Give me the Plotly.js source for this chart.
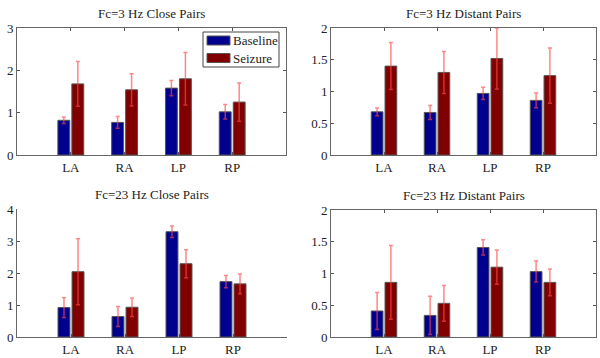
<!DOCTYPE html>
<html>
<head>
<meta charset="utf-8">
<script src="https://cdn.plot.ly/plotly-3.0.1.min.js"></script>
<style>html,body{margin:0;padding:0;background:#fff;}#chart{width:600px;height:358px;}</style>
</head>
<body>
<div id="chart"></div>
<script>
const categories = ["LA", "RA", "LP", "RP"];
const seriesNames = ["Baseline", "Seizure"];
const panelTitles = ["Fc=3 Hz Close Pairs", "Fc=3 Hz Distant Pairs", "Fc=23 Hz Close Pairs", "Fc=23 Hz Distant Pairs"];

// Fc=3 Hz Close Pairs
const close3Baseline = [0.82, 0.77, 1.58, 1.02];
const close3BaselineErr = [0.075, 0.14, 0.18, 0.17];
const close3Seizure = [1.68, 1.54, 1.80, 1.25];
const close3SeizureErr = [0.53, 0.38, 0.62, 0.45];

// Fc=3 Hz Distant Pairs
const distant3Baseline = [0.68, 0.67, 0.97, 0.86];
const distant3BaselineErr = [0.06, 0.11, 0.095, 0.115];
const distant3Seizure = [1.40, 1.30, 1.52, 1.25];
const distant3SeizureErr = [0.37, 0.33, 0.48, 0.435];

// Fc=23 Hz Close Pairs
const close23Baseline = [0.92, 0.64, 3.29, 1.73];
const close23BaselineErr = [0.31, 0.31, 0.18, 0.19];
const close23Seizure = [2.04, 0.93, 2.29, 1.66];
const close23SeizureErr = [1.03, 0.29, 0.44, 0.31];

// Fc=23 Hz Distant Pairs
const distant23Baseline = [0.41, 0.34, 1.41, 1.03];
const distant23BaselineErr = [0.29, 0.30, 0.12, 0.165];
const distant23Seizure = [0.86, 0.53, 1.10, 0.86];
const distant23SeizureErr = [0.58, 0.28, 0.27, 0.21];

const yMax = [3, 2, 4, 2];
const yStep = [1, 0.5, 1, 0.5];

const blue = "#00008f";
const red = "#800000";
const seriesColors = [blue, red];
const errColor = "rgba(255,70,70,0.65)";
const fontFam = "Times New Roman";

const panels = [
  [close3Baseline, close3BaselineErr, close3Seizure, close3SeizureErr],
  [distant3Baseline, distant3BaselineErr, distant3Seizure, distant3SeizureErr],
  [close23Baseline, close23BaselineErr, close23Seizure, close23SeizureErr],
  [distant23Baseline, distant23BaselineErr, distant23Seizure, distant23SeizureErr]
];
const xPos = categories.map((c, i) => i + 1);

const traces = [];
panels.forEach((p, k) => {
  const xa = k === 0 ? "x" : "x" + (k + 1);
  const ya = k === 0 ? "y" : "y" + (k + 1);
  [0, 1].forEach(s => {
    traces.push({
      type: "bar",
      x: xPos,
      y: p[s * 2],
      name: seriesNames[s],
      showlegend: false,
      xaxis: xa, yaxis: ya,
      marker: {color: seriesColors[s], line: {color: "#555", width: 1}},
      error_y: {type: "data", array: p[s * 2 + 1], visible: true, color: errColor, thickness: 1.5, width: 2},
      hoverinfo: "x+y"
    });
  });
});

const W = 600, H = 358;
const boxes = [
  {x0: 17, x1: 286, y0: 28, y1: 155},
  {x0: 331, x1: 596, y0: 28, y1: 155},
  {x0: 17, x1: 287, y0: 209, y1: 337},
  {x0: 331, x1: 596, y0: 210, y1: 337}
];

const px = v => v / W;
const py = v => 1 - v / H;

const layout = {
  width: W, height: H,
  margin: {l: 0, r: 0, t: 0, b: 0},
  paper_bgcolor: "#fff", plot_bgcolor: "#fff",
  barmode: "group", bargap: 0.48, bargroupgap: 0.15,
  font: {family: fontFam, size: 13, color: "#222"},
  showlegend: false,
  annotations: [],
  shapes: []
};

boxes.forEach((b, k) => {
  const sfx = k === 0 ? "" : String(k + 1);
  const boxed = k !== 2;
  const tv = [];
  for (let v = 0; v <= yMax[k] + 1e-9; v += yStep[k]) tv.push(+v.toFixed(2));
  layout["xaxis" + sfx] = {
    domain: [px(b.x0), px(b.x1)],
    anchor: "y" + sfx,
    range: [0, 5],
    tickvals: xPos, ticktext: categories,
    ticks: "inside", ticklen: 3, tickcolor: "#555",
    showline: true, linecolor: "#666", linewidth: 1,
    mirror: boxed ? "ticks" : false,
    showgrid: false, zeroline: false,
    tickfont: {family: fontFam, size: 13, color: "#222"}
  };
  layout["yaxis" + sfx] = {
    domain: [py(b.y1), py(b.y0)],
    anchor: "x" + sfx,
    range: [0, yMax[k]],
    tickvals: tv,
    ticks: "inside", ticklen: 3, tickcolor: "#555",
    showline: true, linecolor: "#666", linewidth: 1,
    mirror: boxed ? "ticks" : false,
    showgrid: false, zeroline: false,
    tickfont: {family: fontFam, size: 13, color: "#222"}
  };
  layout.annotations.push({
    text: panelTitles[k],
    xref: "paper", yref: "paper",
    x: px((b.x0 + b.x1) / 2), y: py(b.y0 - 5),
    xanchor: "center", yanchor: "bottom",
    showarrow: false,
    font: {family: fontFam, size: 13, color: "#222"}
  });
});

// Legend (drawn in the first panel's top-right corner)
layout.shapes.push({
  type: "rect", xref: "paper", yref: "paper",
  x0: px(203), x1: px(279), y0: py(67), y1: py(32),
  line: {color: "#444", width: 1}, fillcolor: "#fff", layer: "above"
});
seriesNames.forEach((name, s) => {
  const yc = 40.5 + s * 17.5;
  layout.shapes.push({
    type: "rect", xref: "paper", yref: "paper",
    x0: px(207), x1: px(230), y0: py(yc + 4.5), y1: py(yc - 4.5),
    line: {color: "#555", width: 1}, fillcolor: seriesColors[s], layer: "above"
  });
  layout.annotations.push({
    text: name, xref: "paper", yref: "paper",
    x: px(231), y: py(yc), xanchor: "left", yanchor: "middle",
    showarrow: false,
    font: {family: fontFam, size: 13, color: "#222"}
  });
});

Plotly.newPlot("chart", traces, layout, {displayModeBar: false, staticPlot: true});
</script>
</body>
</html>
